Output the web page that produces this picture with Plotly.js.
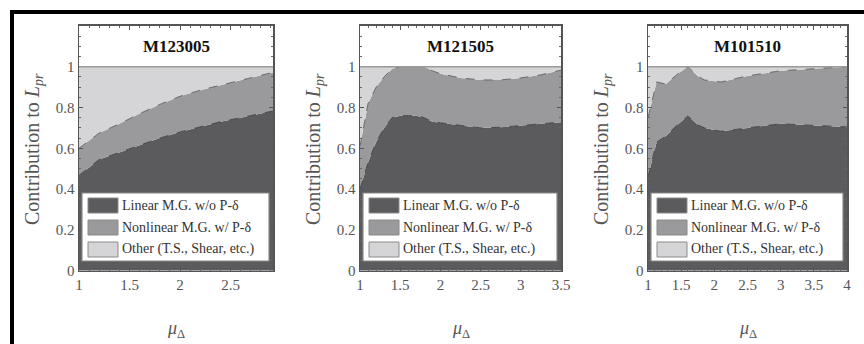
<!DOCTYPE html>
<html>
<head>
<meta charset="utf-8">
<script src="https://cdn.plot.ly/plotly-3.0.1.min.js"></script>
<style>html,body{margin:0;padding:0;background:#fff;}#chart{width:864px;height:344px;}</style>
</head>
<body>
<div id="chart"></div>
<script>
// ---------------- data ----------------
const panelTitles = ["M123005", "M121505", "M101510"];
const seriesNames = ["Linear M.G. w/o P-δ", "Nonlinear M.G. w/ P-δ", "Other (T.S., Shear, etc.)"];

const mu1 = [1, 1.2, 1.4, 1.6, 1.8, 2.0, 2.2, 2.4, 2.6, 2.8, 2.92];
const linear1 = [0.467, 0.545, 0.58, 0.615, 0.65, 0.68, 0.705, 0.73, 0.75, 0.77, 0.783];
const nonlinear1 = [0.133, 0.13, 0.14, 0.155, 0.165, 0.175, 0.18, 0.18, 0.185, 0.188, 0.189];
const other1 = [0.40, 0.325, 0.28, 0.23, 0.185, 0.145, 0.115, 0.09, 0.065, 0.042, 0.028];

const mu2 = [1, 1.1, 1.2, 1.3, 1.4, 1.5, 1.6, 1.7, 1.8, 1.9, 2.0, 2.25, 2.5, 2.75, 3.0, 3.25, 3.5];
const linear2 = [0.40, 0.53, 0.63, 0.70, 0.75, 0.76, 0.76, 0.76, 0.75, 0.73, 0.725, 0.712, 0.70, 0.703, 0.71, 0.72, 0.728];
const nonlinear2 = [0.21, 0.29, 0.27, 0.25, 0.24, 0.24, 0.24, 0.24, 0.25, 0.25, 0.24, 0.233, 0.235, 0.232, 0.235, 0.24, 0.255];
const other2 = [0.39, 0.18, 0.10, 0.05, 0.01, 0, 0, 0, 0, 0.02, 0.035, 0.055, 0.065, 0.065, 0.055, 0.04, 0.017];

const mu3 = [1.0, 1.13, 1.27, 1.45, 1.6, 1.75, 1.85, 2.1, 2.5, 3.0, 3.5, 4.0];
const linear3 = [0.46, 0.63, 0.66, 0.717, 0.758, 0.715, 0.70, 0.683, 0.70, 0.72, 0.712, 0.705];
const nonlinear3 = [0.29, 0.295, 0.255, 0.248, 0.242, 0.24, 0.235, 0.242, 0.255, 0.26, 0.278, 0.295];
const other3 = [0.25, 0.075, 0.085, 0.035, 0, 0.045, 0.065, 0.075, 0.045, 0.02, 0.01, 0];

const xRanges = [[1, 2.92], [1, 3.5], [1, 4]];
const yTickVals = [0, 0.2, 0.4, 0.6, 0.8, 1];
const yTickText = ["0", "0.2", "0.4", "0.6", "0.8", "1"];

// ---------------- styling / layout ----------------
const W = 864, H = 344;
const px = v => v / W;
const py = v => 1 - v / H;
const colors = ["#5b5b5e", "#9a9a9d", "#d5d5d7"];
const lineCols = ["#3e3e40", "#5e5e60", "#9a9a9a"];
const serif = "'Liberation Serif', 'Times New Roman', serif";
const plotBox = [[79, 273], [360, 561], [648, 847]];
const yTopPx = 25.9, yBotPx = 270.7;

const muArr = [mu1, mu2, mu3];
const dataArr = [[linear1, nonlinear1, other1], [linear2, nonlinear2, other2], [linear3, nonlinear3, other3]];

const traces = [];
const layout = {
  width: W, height: H,
  margin: {l: 0, r: 0, t: 0, b: 0},
  paper_bgcolor: "#fff", plot_bgcolor: "#fff",
  showlegend: false,
  font: {family: serif, color: "#555"},
  shapes: [], annotations: []
};

for (let p = 0; p < 3; p++) {
  const sfx = p === 0 ? "" : String(p + 1);
  const xa = "x" + sfx, ya = "y" + sfx;
  for (let s = 0; s < 3; s++) {
    traces.push({
      type: "scatter", mode: "lines", x: muArr[p], y: dataArr[p][s],
      stackgroup: "g" + p, xaxis: xa, yaxis: ya, name: seriesNames[s],
      fillcolor: colors[s],
      line: {color: lineCols[s], width: s === 2 ? 0 : 0.9, dash: "dash"},
      hoverinfo: "skip"
    });
  }
  const [L, R] = plotBox[p];
  const common = {
    showline: true, linecolor: "#555", linewidth: 1.5, mirror: "ticks",
    ticks: "inside", ticklen: 4, tickcolor: "#555", tickwidth: 1,
    showgrid: false, zeroline: false,
    tickfont: {family: serif, size: 15, color: "#555"}
  };
  layout["xaxis" + sfx] = Object.assign({}, common, {
    domain: [px(L), px(R)], range: xRanges[p], anchor: ya,
    dtick: 0.5, tick0: 1,
    minor: {ticks: "inside", ticklen: 2, tickcolor: "#666", dtick: 0.1}
  });
  layout["yaxis" + sfx] = Object.assign({}, common, {
    domain: [py(yBotPx), py(yTopPx)], range: [0, 1.2], anchor: xa,
    tickmode: "array", tickvals: yTickVals, ticktext: yTickText,
    minor: {ticks: "inside", ticklen: 2, tickcolor: "#666", dtick: 0.05}
  });

  // line at y = 1 (bottom of the title box)
  layout.shapes.push({type: "line", xref: xa + " domain", yref: ya, x0: 0, x1: 1, y0: 1, y1: 1,
    line: {color: "#9a9a9a", width: 1.5}});
  // panel title
  layout.annotations.push({xref: xa + " domain", yref: ya, x: 0.5, y: 1.1, xanchor: "center", yanchor: "middle",
    text: "<b>" + panelTitles[p] + "</b>",
    showarrow: false, font: {family: serif, size: 17, color: "#111"}});
  // axis titles
  layout.annotations.push({xref: "paper", yref: "paper", x: px((L + R) / 2), y: py(329),
    xanchor: "center", yanchor: "middle",
    text: "<i>μ</i><sub>Δ</sub>", showarrow: false, font: {family: serif, size: 18, color: "#555"}});
  layout.annotations.push({xref: "paper", yref: "paper", x: px(L - 46), y: py(149), textangle: -90,
    xanchor: "center", yanchor: "middle",
    text: "Contribution to <i>L</i><sub><i>pr</i></sub>", showarrow: false,
    font: {family: serif, size: 20, color: "#555"}});

  // legend box (drawn inside the panel)
  const lL = L + 3, lR = R - 4, lT = 193, lB = 261;
  layout.shapes.push({type: "rect", xref: "paper", yref: "paper", x0: px(lL), x1: px(lR), y0: py(lB), y1: py(lT),
    fillcolor: "#fff", line: {color: "#8a8a8a", width: 1.2}});
  const rows = [205.5, 227.5, 249.5];
  for (let s = 0; s < 3; s++) {
    layout.shapes.push({type: "rect", xref: "paper", yref: "paper",
      x0: px(lL + 6), x1: px(lL + 36), y0: py(rows[s] + 7.5), y1: py(rows[s] - 7.5),
      fillcolor: colors[s], line: {color: "#8a8a8a", width: 1}});
    layout.annotations.push({xref: "paper", yref: "paper", x: px(lL + 38), y: py(rows[s]),
      xanchor: "left", yanchor: "middle", text: seriesNames[s], showarrow: false,
      font: {family: serif, size: 14, color: "#333"}});
  }
}

// outer black frame (top and left)
layout.shapes.push({type: "line", xref: "paper", yref: "paper", x0: px(10), x1: px(864), y0: py(12), y1: py(12),
  line: {color: "#000", width: 4}});
layout.shapes.push({type: "line", xref: "paper", yref: "paper", x0: px(12), x1: px(12), y0: py(10), y1: py(344),
  line: {color: "#000", width: 4}});

Plotly.newPlot("chart", traces, layout, {staticPlot: true, displayModeBar: false});
</script>
</body>
</html>
